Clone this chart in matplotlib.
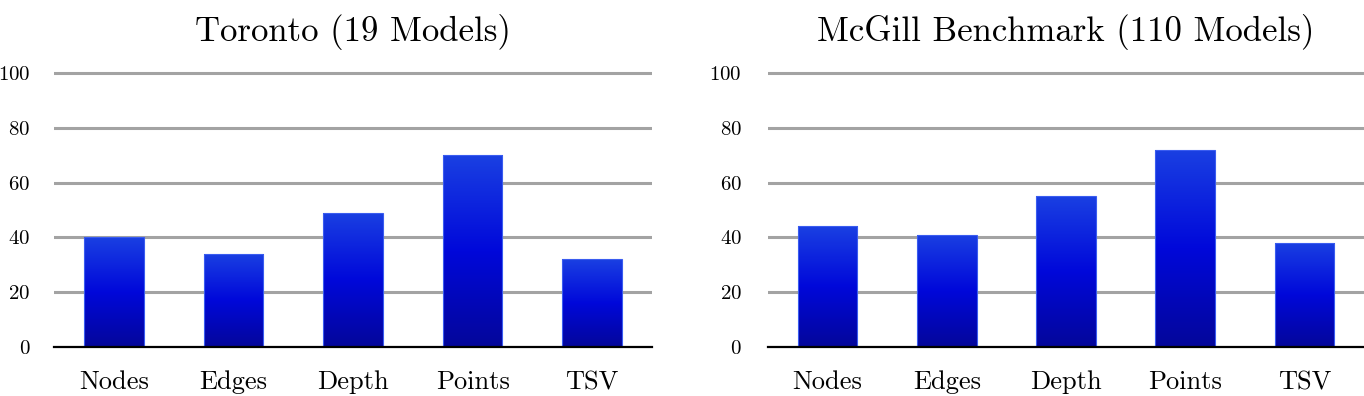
import numpy as np
import matplotlib
matplotlib.use('Agg')
import matplotlib.pyplot as plt
from matplotlib.colors import LinearSegmentedColormap

plt.rcParams['font.family'] = ['cmr10', 'DejaVu Serif']
plt.rcParams['axes.formatter.use_mathtext'] = True

categories = ['Nodes', 'Edges', 'Depth', 'Points', 'TSV']
toronto_vals = [40, 34, 49, 70, 32]
mcgill_vals = [44, 41, 55, 72, 38]
titles = ['Toronto (19 Models)', 'McGill Benchmark (110 Models)']
yticks = [0, 20, 40, 60, 80, 100]

# top light -> middle bright -> bottom dark
grad = LinearSegmentedColormap.from_list(
    'bars', [(0.0, '#04069a'), (0.5, '#0008da'), (1.0, '#1a40e2')])


def draw_panel(ax, values, title, ypad):
    x = np.arange(len(categories))
    bars = ax.bar(x, values, width=0.5, color='none', edgecolor='#3a5cf0',
                  linewidth=0.8, zorder=3)
    g = np.linspace(0, 1, 256).reshape(-1, 1)
    for b in bars:
        x0, y0 = b.get_x(), b.get_y()
        w, h = b.get_width(), b.get_height()
        im = ax.imshow(g, cmap=grad, origin='lower', aspect='auto',
                       extent=[x0, x0 + w, y0, y0 + h], zorder=2)
        im.set_clip_path(b)
    ax.set_xlim(-0.5, len(categories) - 0.5)
    ax.set_ylim(0, 105)
    ax.set_yticks(yticks)
    ax.set_xticks(x)
    ax.set_xticklabels(categories, fontsize=19)
    ax.tick_params(axis='y', length=0, pad=ypad, labelsize=15)
    ax.tick_params(axis='x', length=0, pad=17)
    for t in yticks[1:]:
        ax.axhline(t, color='#a3a3a3', linewidth=2.2, zorder=1)
    for s in ['top', 'right', 'left']:
        ax.spines[s].set_visible(False)
    ax.spines['bottom'].set_linewidth(1.6)
    ax.spines['bottom'].set_zorder(4)
    ax.set_title(title, fontsize=25, pad=13)


fig = plt.figure(figsize=(13.64, 3.96), dpi=100)
ax1 = fig.add_axes([0.0396, 0.1237, 0.4384, 0.7266])
ax2 = fig.add_axes([0.5630, 0.1237, 0.4370, 0.7266])
draw_panel(ax1, toronto_vals, titles[0], 17)
draw_panel(ax2, mcgill_vals, titles[1], 19)

fig.savefig('out.png', dpi=100)
